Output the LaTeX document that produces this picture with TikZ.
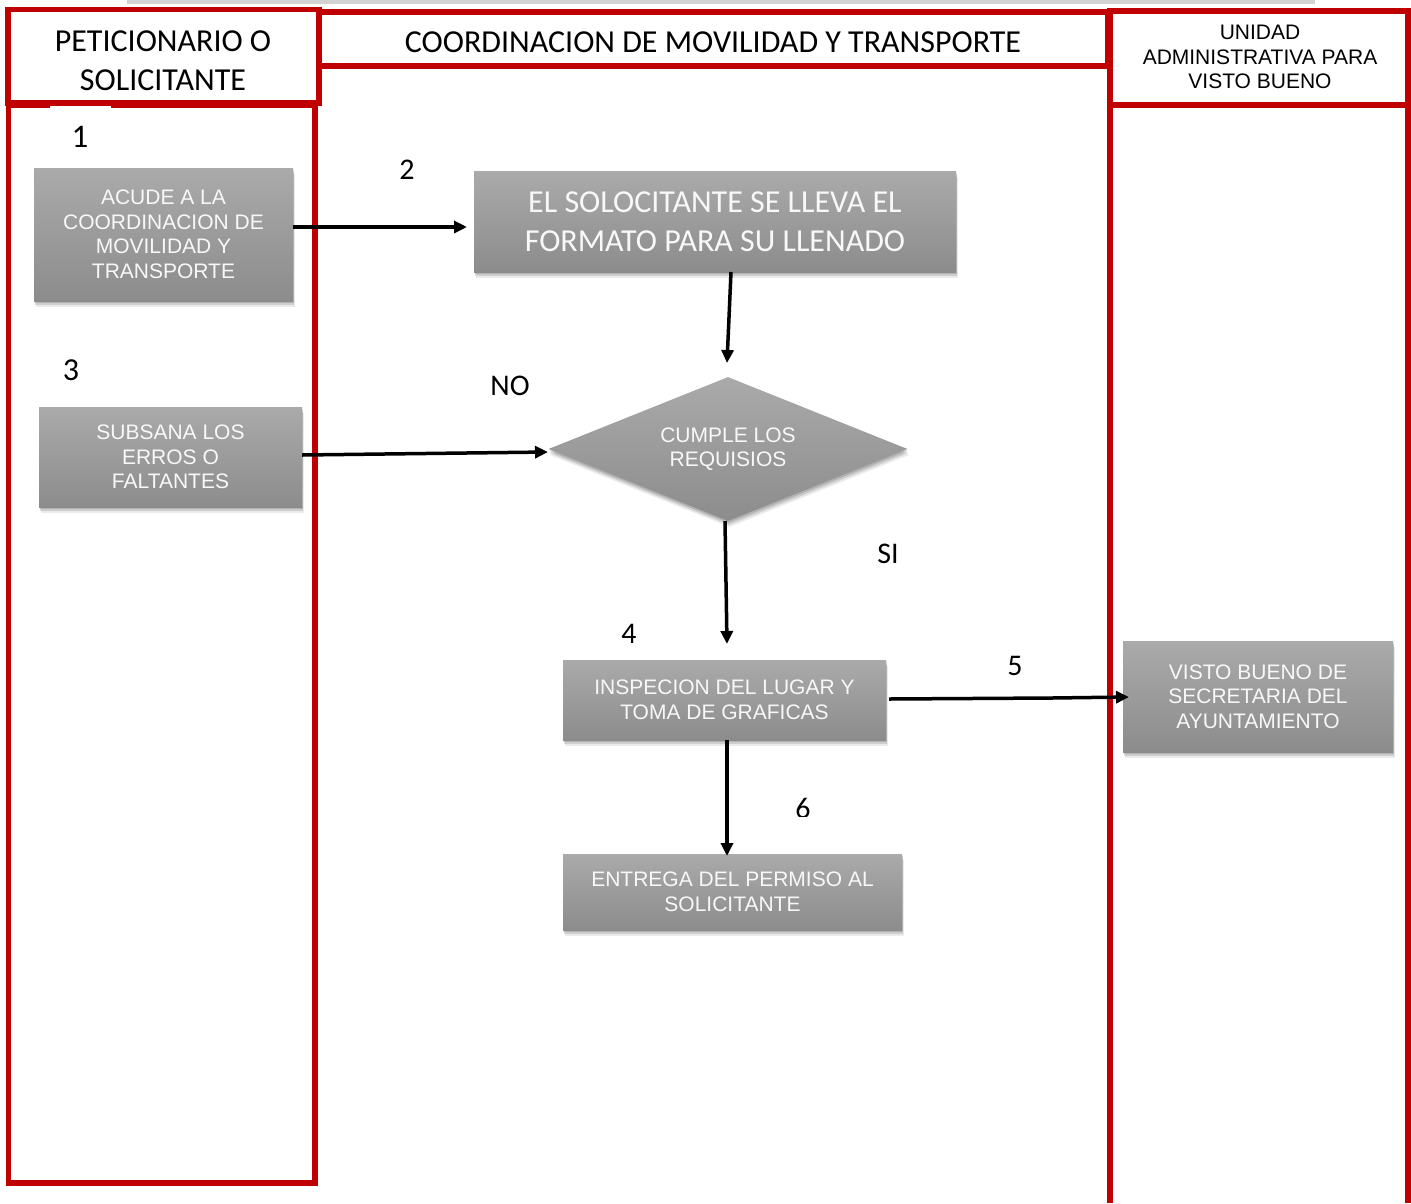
\documentclass[tikz,border=0pt]{standalone}
\usepackage{fontspec}
\setmainfont{Carlito}
\newfontfamily\arialf{Liberation Sans}
\usetikzlibrary{shapes.geometric,arrows.meta,shadows,calc}
\definecolor{lanered}{RGB}{192,0,0}
\definecolor{boxtop}{RGB}{170,170,170}
\definecolor{boxbot}{RGB}{140,140,140}
\definecolor{boxtext}{RGB}{248,248,248}
\tikzset{
  lane/.style={draw=lanered,line width=5.5pt},
  softshadow/.style={
    drop shadow={shadow xshift=0.5pt,shadow yshift=-2pt,opacity=0.14,fill=black},
    drop shadow={shadow xshift=1pt,shadow yshift=-4pt,opacity=0.12,fill=black},
    drop shadow={shadow xshift=1.5pt,shadow yshift=-6pt,opacity=0.08,fill=black}},
  procbox/.style={rectangle,inner sep=0pt,top color=boxtop,bottom color=boxbot,draw=none,
    text=boxtext,align=center,font=\arialf\fontsize{21}{24.5}\selectfont,softshadow},
  decbox/.style={diamond,inner sep=0pt,aspect=2.5,top color=boxtop,bottom color=boxbot,draw=none,
    text=boxtext,align=center,font=\arialf\fontsize{21}{24.5}\selectfont,softshadow},
  headtxt/.style={align=center,font=\fontsize{32}{39}\selectfont,text=black,inner sep=0pt},
  numlbl/.style={font=\fontsize{30}{32}\selectfont,text=black,inner sep=0pt},
  arr/.style={draw=black,line width=3.5pt,-{Triangle[length=13pt,width=12pt]}},
}
\begin{document}
\begin{tikzpicture}[x=1pt,y=-1pt]
\useasboundingbox (0,0) rectangle (1411,1203);
% top grey strip
\fill[gray!35] (127,0) rectangle (1315,3.5);
% lanes
\draw[lane] (8.5,105.5) rectangle (315,1183);
\fill[white] (50,104.5) rectangle (111,108.5);
\draw[lane] (8,9.5) rectangle (319,103);
\draw[lane] (319,12) rectangle (1108,66);
\draw[lane] (1110,11) rectangle (1408,105);
\draw[lane] (1110,66) -- (1110,1203);
\draw[lane] (1408,105) -- (1408,1203);
% headers
\node[headtxt] (h1) at (163,60.5) {PETICIONARIO O\\SOLICITANTE};
\node[headtxt] (h2) at (713,42) {COORDINACION DE MOVILIDAD Y TRANSPORTE};
\node[headtxt,font=\arialf\fontsize{21}{24.5}\selectfont] (h3) at (1260,57) {UNIDAD\\ADMINISTRATIVA PARA\\VISTO BUENO};
% process boxes
\node[procbox,minimum width=259pt,minimum height=133pt] (acude) at (163.5,234.5) {ACUDE A LA\\COORDINACION DE\\MOVILIDAD Y\\TRANSPORTE};
\node[procbox,minimum width=482pt,minimum height=101pt,font=\fontsize{32}{39}\selectfont] (solo) at (715,221.5) {EL SOLOCITANTE SE LLEVA EL\\FORMATO PARA SU LLENADO};
\node[procbox,minimum width=263pt,minimum height=100pt] (subs) at (170.5,457) {SUBSANA LOS\\ERROS O\\FALTANTES};
\node[decbox,minimum width=359pt,minimum height=144pt] (dec) at (728,449) {CUMPLE LOS\\REQUISIOS};
\node[procbox,minimum width=323pt,minimum height=80pt] (insp) at (724.5,700) {INSPECION DEL LUGAR Y\\TOMA DE GRAFICAS};
\node[procbox,minimum width=339pt,minimum height=76pt] (entr) at (732.5,892) {ENTREGA DEL PERMISO AL\\SOLICITANTE};
\node[procbox,minimum width=270pt,minimum height=111pt] (visto) at (1258,696.5) {VISTO BUENO DE\\SECRETARIA DEL\\AYUNTAMIENTO};
% labels
\node[numlbl,font=\fontsize{33}{34}\selectfont] (l1) at (80,137) {1};
\node[numlbl] (l2) at (407,170) {2};
\node[numlbl,font=\fontsize{32}{34}\selectfont] (l3) at (71,370) {3};
\node[numlbl] (lno) at (510,386) {NO};
\node[numlbl] (lsi) at (888,554) {SI};
\node[numlbl] (l4) at (629,634) {4};
\node[numlbl] (l5) at (1015,666) {5};
\begin{scope}
\clip (780,790) rectangle (830,816);
\node[numlbl] (l6) at (803,808) {6};
\end{scope}
% connector coordinates
\coordinate (c1a) at (acude.east |- 0,227);
\coordinate (c1b) at (467,227);
\coordinate (c2a) at (731,272);
\coordinate (c2b) at (727,363);
\coordinate (c4a) at (subs.east |- 0,455);
\coordinate (c4b) at (548,452);
\coordinate (c3a) at (725,521);
\coordinate (c3b) at (727,644);
\coordinate (c6a) at (727,740);
\coordinate (c6b) at (727,856);
\coordinate (c5a) at (889,699);
\coordinate (c5k) at (1052,698);
\coordinate (c5b) at (1129,697);
% connectors
\draw[arr] (c1a) -- (c1b);
\draw[arr] (c2a) -- (c2b);
\draw[arr] (c4a) -- (c4b);
\draw[arr] (c3a) -- (c3b);
\draw[arr] (c5a) -- (c5k) -- (c5b);
\draw[arr] (c6a) -- (c6b);
\end{tikzpicture}
\end{document}
